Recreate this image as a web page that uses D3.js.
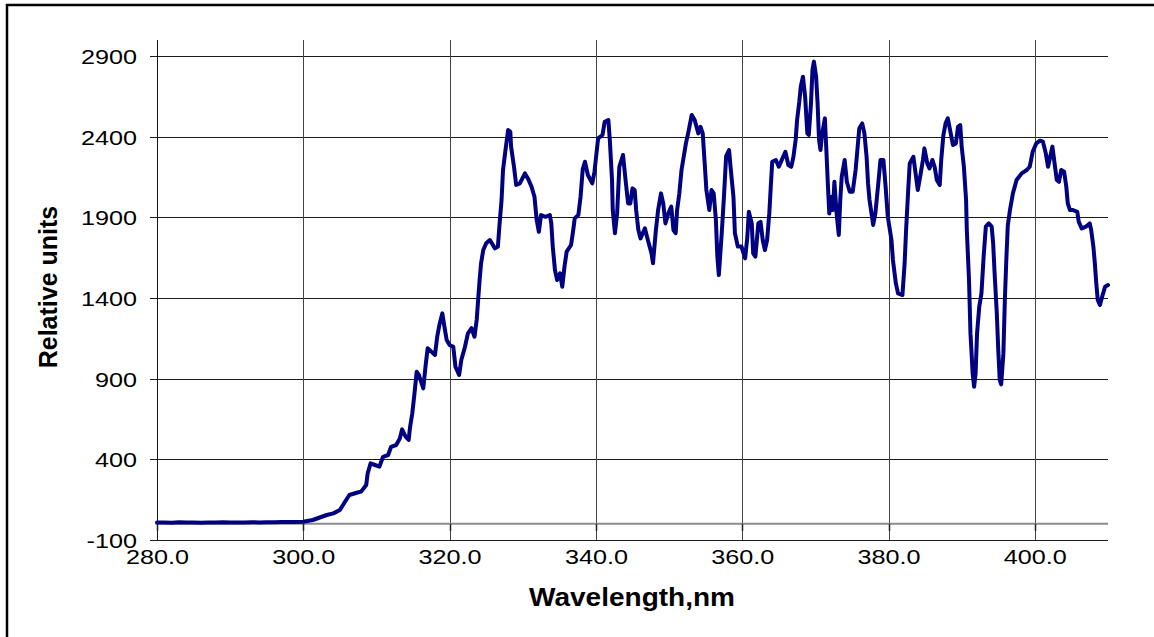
<!DOCTYPE html>
<html>
<head>
<meta charset="utf-8">
<script src="https://cdn.jsdelivr.net/npm/d3@7"></script>
<style>
  body { margin: 0; background: #fff; }
  svg { display: block; font-family: "Liberation Sans", Arial, sans-serif; }
</style>
</head>
<body>
<script>
const width = 1154;
const height = 637;
const margin = ({top: 40, right: 46, bottom: 97, left: 157});

// spectrum (nm -> relative units)
const wavelengths = [
  280.0, 281.0, 282.0, 283.0, 284.0, 285.0, 286.0, 287.0, 288.0, 289.0, 290.0, 291.0, 292.0, 293.0, 294.0, 295.0, 296.0, 297.0, 298.0, 299.0, 300.0,
  301.3, 303.2, 304.1, 305.0, 305.7, 306.3, 307.3, 307.9, 308.6, 308.8, 309.2, 309.8, 310.4, 310.9, 311.6, 312.0, 312.7, 313.2, 313.5, 314.0,
  314.4, 314.6, 314.9, 315.2, 315.5, 315.8, 316.4, 316.7, 317.0, 317.5, 318.0, 318.3, 318.6, 319.0, 319.3, 319.6, 320.0, 320.5, 320.8, 321.3,
  321.6, 322.1, 322.5, 323.0, 323.4, 323.7, 323.9, 324.1, 324.3, 324.6, 325.0, 325.5, 326.2, 326.6, 326.8, 327.1, 327.3, 327.7, 328.0, 328.3,
  328.4, 328.8, 329.1, 329.6, 330.3, 330.7, 331.2, 331.6, 331.9, 332.2, 332.5, 333.1, 333.7, 333.9, 334.1, 334.4, 334.7, 335.1, 335.4, 335.7,
  336.0, 336.6, 336.9, 337.1, 337.6, 337.9, 338.2, 338.5, 338.9, 339.5, 339.8, 340.3, 340.9, 341.2, 341.7, 341.9, 342.2, 342.3, 342.6, 342.9,
  343.2, 343.7, 344.1, 344.4, 344.7, 345.0, 345.3, 345.5, 345.8, 346.1, 346.7, 347.1, 347.6, 347.8, 348.2, 348.5, 348.9, 349.2, 349.5, 349.9,
  350.3, 350.6, 350.9, 351.1, 351.4, 351.7, 352.0, 352.3, 352.6, 353.1, 353.5, 354.0, 354.3, 354.6, 354.9, 355.1, 355.5, 355.8, 356.1, 356.4,
  356.6, 356.8, 357.2, 357.5, 357.8, 358.2, 358.4, 358.8, 359.0, 359.4, 359.9, 360.4, 360.7, 360.9, 361.3, 361.5, 361.8, 362.2, 362.5, 362.8,
  363.1, 363.4, 363.7, 363.9, 364.1, 364.6, 365.0, 365.5, 365.9, 366.3, 366.7, 367.0, 367.3, 367.5, 367.8, 368.0, 368.3, 368.6, 368.9, 369.1,
  369.4, 369.6, 369.8, 370.1, 370.3, 370.5, 370.7, 370.9, 371.3, 371.5, 371.7, 371.9, 372.2, 372.4, 372.6, 372.9, 373.2, 373.4, 373.6, 374.0,
  374.3, 374.7, 375.1, 375.5, 375.7, 376.0, 376.4, 376.7, 377.0, 377.2, 377.4, 377.9, 378.2, 378.6, 378.9, 379.3, 379.6, 379.9, 380.4, 380.6,
  381.0, 381.3, 381.9, 382.2, 382.4, 382.7, 382.9, 383.4, 383.7, 384.0, 384.4, 384.7, 384.9, 385.3, 385.6, 386.0, 386.3, 386.6, 387.0, 387.2,
  387.5, 387.8, 388.1, 388.5, 388.8, 389.2, 389.5, 389.8, 390.0, 390.3, 390.6, 390.7, 391.0, 391.2, 391.5, 391.7, 391.9, 392.1, 392.4, 392.7,
  393.0, 393.3, 393.7, 394.1, 394.3, 394.5, 394.8, 395.0, 395.2, 395.4, 395.7, 395.9, 396.1, 396.3, 396.6, 397.0, 397.5, 398.2, 398.9, 399.3,
  399.7, 400.2, 400.7, 401.1, 401.5, 401.8, 402.1, 402.4, 402.7, 403.0, 403.3, 403.6, 404.0, 404.3, 404.5, 404.8, 405.2, 405.8, 406.0, 406.4,
  407.0, 407.5, 407.7, 408.0, 408.2, 408.4, 408.6, 408.9, 409.2, 409.6, 410.0
];
const intensity = [
  8, 9, 7, 10, 8, 9, 7, 9, 8, 10, 8, 9, 8, 10, 9, 10, 10, 11, 11, 12, 13,
  24, 55, 65, 86, 137, 179, 193, 200, 241, 314, 375, 365, 355, 416, 427, 478, 489, 530, 586, 540,
  520, 602, 686, 810, 943, 923, 840, 974, 1089, 1068, 1047, 1160, 1233, 1305, 1220, 1140, 1109, 1098, 974, 923,
  1016, 1098, 1181, 1213, 1160, 1264, 1388, 1512, 1616, 1698, 1740, 1760, 1708, 1719, 1843, 2008, 2194, 2339, 2442, 2431,
  2339, 2214, 2101, 2111, 2173, 2142, 2090, 2028, 1884, 1811, 1915, 1904, 1915, 1863, 1719, 1574, 1512, 1553, 1470, 1594,
  1688, 1729, 1822, 1894, 1915, 2028, 2200, 2245, 2163, 2111, 2183, 2390, 2411, 2493, 2504, 2380, 2132, 1946, 1802, 1925,
  2214, 2287, 2111, 1987, 1987, 2080, 2070, 1946, 1822, 1770, 1832, 1760, 1677, 1616, 1822, 1946, 2049, 1987, 1863, 1925,
  1967, 1822, 1802, 1946, 2049, 2194, 2276, 2359, 2421, 2535, 2504, 2421, 2462, 2421, 2214, 2070, 1946, 2070, 2049, 1884,
  1657, 1543, 1802, 2028, 2280, 2318, 2214, 2028, 1802, 1719, 1719, 1646, 1780, 1935, 1863, 1677, 1657, 1863, 1873, 1760,
  1698, 1760, 1925, 2090, 2245, 2256, 2214, 2266, 2307, 2225, 2214, 2276, 2380, 2504, 2617, 2710, 2772, 2648, 2421, 2411,
  2607, 2814, 2866, 2772, 2607, 2380, 2318, 2411, 2514, 2318, 2111, 1925, 2028, 1946, 2121, 1925, 1791, 2008, 2152, 2256,
  2121, 2059, 2059, 2194, 2297, 2452, 2483, 2421, 2276, 2111, 2008, 1853, 1925, 2111, 2256, 2256, 2090, 1904, 1760, 1636,
  1491, 1429, 1419, 1616, 1822, 2080, 2235, 2276, 2173, 2070, 2173, 2256, 2328, 2235, 2204, 2256, 2214, 2132, 2101, 2256,
  2411, 2483, 2514, 2421, 2349, 2359, 2462, 2473, 2339, 2214, 2008, 1822, 1512, 1181, 933, 850, 933, 1181, 1346, 1429,
  1657, 1843, 1863, 1843, 1740, 1553, 1305, 1078, 892, 865, 1057, 1388, 1636, 1850, 1946, 2049, 2132, 2173, 2194, 2214,
  2307, 2359, 2376, 2370, 2297, 2214, 2276, 2339, 2235, 2132, 2121, 2194, 2183, 2090, 1987, 1946, 1946, 1935, 1873, 1832,
  1843, 1863, 1822, 1719, 1616, 1491, 1388, 1357, 1408, 1470, 1481
];
const xTicks = [280, 300, 320, 340, 360, 380, 400];
const yTicks = [-100, 400, 900, 1400, 1900, 2400, 2900];

const data = wavelengths.map((w, i) => ({nm: w, v: intensity[i]}));

const xScale = d3.scaleLinear()
                 .domain([280, 410])
                 .range([margin.left, width - margin.right]);
const yScale = d3.scaleLinear()
                 .domain([-100, 3000])
                 .range([height - margin.bottom, margin.top]);

const svg = d3.select("body").append("svg")
              .attr("width", width)
              .attr("height", height);

// outer frame (only top & left edges are visible in the picture)
svg.append("rect")
   .attr("x", 7).attr("y", 5)
   .attr("width", width + 20).attr("height", height + 20)
   .attr("fill", "none")
   .attr("stroke", "#000")
   .attr("stroke-width", 2.5);

// horizontal grid
svg.append("g")
   .selectAll("line")
   .data(yTicks)
   .enter()
   .append("line")
   .attr("x1", margin.left - 7)
   .attr("x2", width - margin.right)
   .attr("y1", d => Math.round(yScale(d)) + 0.5)
   .attr("y2", d => Math.round(yScale(d)) + 0.5)
   .attr("stroke", "#1a1a1a");

// vertical grid
svg.append("g")
   .selectAll("line")
   .data(xTicks)
   .enter()
   .append("line")
   .attr("x1", d => Math.round(xScale(d)) + 0.5)
   .attr("x2", d => Math.round(xScale(d)) + 0.5)
   .attr("y1", margin.top)
   .attr("y2", height - margin.bottom)
   .attr("stroke", d => d === 280 ? "#1a1a1a" : "#444");

// zero line with its tick marks
svg.append("line")
   .attr("x1", margin.left)
   .attr("x2", width - margin.right)
   .attr("y1", yScale(0))
   .attr("y2", yScale(0))
   .attr("stroke", "#8c8c8c")
   .attr("stroke-width", 2);
svg.append("g")
   .selectAll("line")
   .data(xTicks)
   .enter()
   .append("line")
   .attr("x1", d => Math.round(xScale(d)) + 0.5)
   .attr("x2", d => Math.round(xScale(d)) + 0.5)
   .attr("y1", yScale(0))
   .attr("y2", yScale(0) + 7)
   .attr("stroke", "#222")
   .attr("stroke-width", 1.5);

// axes labels
const xAxis = d3.axisBottom(xScale)
                .tickValues(xTicks)
                .tickFormat(d => d.toFixed(1))
                .tickSize(0);
svg.append("g")
   .attr("transform", "translate(0," + (height - margin.bottom) + ")")
   .call(xAxis)
   .call(g => g.select(".domain").remove())
   .selectAll("text")
   .attr("y", 0)
   .attr("dy", "0.71em")
   .attr("transform", "translate(0,9) scale(1.2,1)")
   .attr("font-size", 21)
   .attr("font-family", "Liberation Sans, Arial, sans-serif")
   .attr("fill", "#000");

const yAxis = d3.axisLeft(yScale)
                .tickValues(yTicks)
                .tickFormat(d => String(d))
                .tickSize(0);
svg.append("g")
   .attr("transform", "translate(" + margin.left + ",0)")
   .call(yAxis)
   .call(g => g.select(".domain").remove())
   .selectAll("text")
   .attr("x", 0)
   .attr("dy", "0.35em")
   .attr("transform", "translate(-20,0) scale(1.2,1)")
   .attr("font-size", 21)
   .attr("font-family", "Liberation Sans, Arial, sans-serif")
   .attr("fill", "#000");

// spectrum line
const line = d3.line()
               .x(d => xScale(d.nm))
               .y(d => yScale(d.v));
svg.append("path")
   .datum(data)
   .attr("fill", "none")
   .attr("stroke", "#000080")
   .attr("stroke-width", 4)
   .attr("stroke-linejoin", "round")
   .attr("stroke-linecap", "round")
   .attr("d", line);

// titles
svg.append("text")
   .attr("transform", "translate(632,606) scale(1.12,1)")
   .attr("text-anchor", "middle")
   .attr("font-weight", "bold")
   .attr("font-size", 25)
   .text("Wavelength,nm");

svg.append("text")
   .attr("transform", "translate(57,287) rotate(-90)")
   .attr("text-anchor", "middle")
   .attr("font-weight", "bold")
   .attr("font-size", 25)
   .text("Relative units");
</script>
</body>
</html>
